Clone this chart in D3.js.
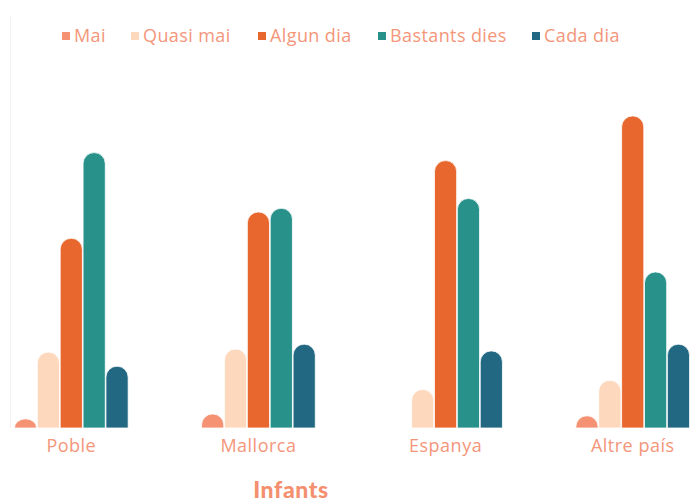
<!DOCTYPE html>
<html>
<head>
<meta charset="utf-8">
<script src="https://cdn.jsdelivr.net/npm/d3@7"></script>
<style>
  html, body { margin: 0; padding: 0; background: #fff; }
  #chart { width: 693px; height: 504px; }
  text { font-family: "Open Sans", "Noto Sans", sans-serif; }
</style>
</head>
<body>
<div id="chart"></div>
<script>
// chart data
const categories = ["Poble", "Mallorca", "Espanya", "Altre país"];
const seriesNames = ["Mai", "Quasi mai", "Algun dia", "Bastants dies", "Cada dia"];
const seriesColors = ["#f59273", "#fdd8bd", "#e8672f", "#27918a", "#226882"];
const mai = [1.5, 2.3, 0, 2.0];
const quasiMai = [12.4, 12.9, 6.3, 7.8];
const algunDia = [31.0, 35.3, 43.7, 51.0];
const bastantsDies = [45.0, 35.9, 37.5, 25.5];
const cadaDia = [10.1, 13.7, 12.6, 13.7];
const title = "Infants";

const seriesValues = [mai, quasiMai, algunDia, bastantsDies, cadaDia];
const textColor = "#f4967a";

const width = 693, height = 504;
const baseline = 428;

const svg = d3.select("#chart").append("svg")
    .attr("width", width)
    .attr("height", height);

const x0 = d3.scaleBand().domain(categories).range([10, 694])
    .paddingInner(0.385).paddingOuter(0.02);
const x1 = d3.scaleBand().domain(seriesNames).range([0, x0.bandwidth()]).padding(0.03);
const y = d3.scaleLinear().domain([0, 55]).range([baseline, baseline - 55 * 6.12]);

// faint left edge of the plot
svg.append("line")
    .attr("x1", 10.5).attr("x2", 10.5)
    .attr("y1", 15).attr("y2", baseline)
    .attr("stroke", "#f2f2f2");

// bar with a rounded top
function roundedBar(x, yTop, w, h) {
    if (h <= 0) return "";
    const rx = w / 2;
    const ry = Math.min(rx, h);
    return `M${x},${yTop + h} L${x},${yTop + ry} A${rx},${ry} 0 0 1 ${x + w},${yTop + ry} L${x + w},${yTop + h} Z`;
}

const rows = [];
categories.forEach((c, i) => {
    seriesNames.forEach((s, j) => {
        rows.push({ cat: c, series: s, value: seriesValues[j][i], color: seriesColors[j] });
    });
});

svg.append("g").selectAll("path").data(rows).enter().append("path")
    .attr("d", d => {
        const bx = x0(d.cat) + x1(d.series);
        const top = y(d.value);
        return roundedBar(bx, top, x1.bandwidth(), y(0) - top);
    })
    .attr("fill", d => d.color)
    .attr("stroke", "#fff")
    .attr("stroke-width", 0.8);

// category labels
const xAxis = svg.append("g")
    .attr("transform", `translate(0, ${baseline})`)
    .call(d3.axisBottom(x0).tickSize(0).tickPadding(11));
xAxis.select(".domain").remove();
xAxis.selectAll("text")
    .style("fill", textColor)
    .style("font-size", "18px")
    .style("letter-spacing", "0.5px")
    .style("font-family", "'Open Sans', sans-serif");

// legend
const legendX = [62, 131, 258, 378, 532];
const legend = svg.append("g").selectAll("g").data(seriesNames).enter().append("g")
    .attr("transform", (d, i) => `translate(${legendX[i]}, 36)`);
legend.append("rect")
    .attr("x", 0).attr("y", -4)
    .attr("width", 8).attr("height", 8)
    .attr("fill", (d, i) => seriesColors[i]);
legend.append("text")
    .attr("x", 12).attr("y", 0)
    .attr("dy", "0.35em")
    .style("fill", textColor)
    .style("font-size", "18px")
    .style("letter-spacing", "0.4px")
    .text(d => d);

// title
svg.append("text")
    .attr("x", 291).attr("y", 498)
    .attr("text-anchor", "middle")
    .style("fill", "#f4906f")
    .style("font-family", "Lato, sans-serif")
    .style("font-weight", "900")
    .style("font-size", "23px")
    .style("letter-spacing", "0.6px")
    .text(title);
</script>
</body>
</html>
